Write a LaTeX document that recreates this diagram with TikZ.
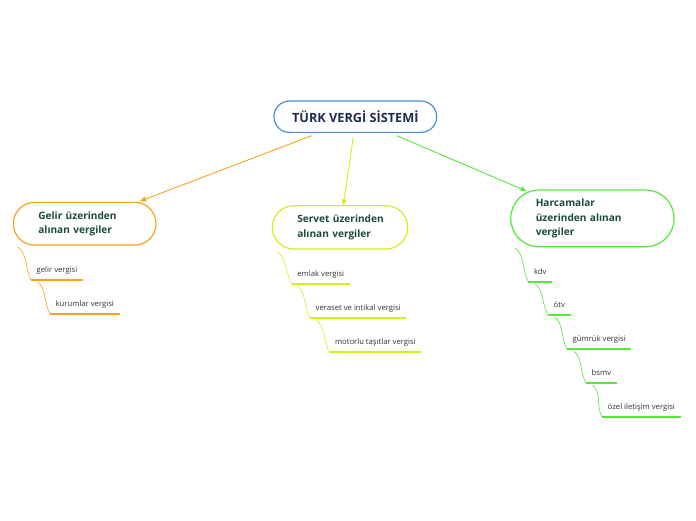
\documentclass[tikz,border=0pt]{standalone}
\usepackage{fontspec}
\setmainfont{Open Sans}
\usetikzlibrary{arrows.meta}
\definecolor{cOrange}{HTML}{F7A21D}
\definecolor{cYellow}{HTML}{D2F01E}
\definecolor{cGreen}{HTML}{55E83A}
\definecolor{cBlue}{HTML}{4A8FD6}
\definecolor{cText}{HTML}{1B4A3C}
\definecolor{cRoot}{HTML}{1D2D50}
\definecolor{cItem}{HTML}{333333}
\begin{document}
\begin{tikzpicture}[x=1pt,y=-1pt,
  box/.style={draw, line width=1.2pt, align=left, inner ysep=0pt, inner xsep=25pt,
    font=\fontsize{10.1}{14.5}\selectfont\bfseries, text=cText},
  rootbox/.style={draw=cBlue, line width=1.2pt, rounded corners=15.5pt, align=center,
    minimum width=162.7pt, minimum height=31.3pt, inner sep=0pt,
    font=\fontsize{12.7}{14}\selectfont\bfseries, text=cRoot},
  item/.style={anchor=south west, inner xsep=5.5pt, inner ysep=7pt, text height=5.5pt, text depth=0pt,
    font=\fontsize{7.7}{9}\selectfont, text=cItem},
  uline/.style={line width=1.6pt},
  twig/.style={line width=0.6pt},
  arr/.style={line width=0.9pt, -{Triangle[length=6pt,width=5pt]}}
]
\useasboundingbox (0,0) rectangle (696,520);
\fill[white] (0,0) rectangle (696,520);

\node[rootbox] (root) at (355.3,116.7) {TÜRK VERGİ SİSTEMİ};

\node[box, draw=cOrange, rounded corners=21.2pt, text width=92.7pt, minimum height=42.7pt] (gelir) at (84.7,223.7) {\mbox{Gelir üzerinden}\\\mbox{alınan vergiler}};
\node[box, draw=cYellow, rounded corners=21.5pt, text width=85.4pt, minimum height=43.3pt] (servet) at (340,227.3) {\mbox{Servet üzerinden}\\\mbox{alınan vergiler}};
\node[box, draw=cGreen, rounded corners=28.2pt, text width=113.3pt, minimum height=56.7pt] (harc) at (592.4,218.4) {\mbox{Harcamalar}\\\mbox{üzerinden alınan}\\\mbox{vergiler}};

\draw[arr, cOrange] ([shift={(-43.6,2.7)}]root.south) -- ([shift={(55.3,-0.6)}]gelir.north);
\draw[arr, cYellow] ([shift={(-2,4.4)}]root.south) -- ([shift={(3.3,0.3)}]servet.north);
\draw[arr, cGreen] ([shift={(41.4,2.7)}]root.south) -- ([shift={(-65.7,1.7)}]harc.north);

% Gelir items
\node[item] (g1) at (31,280) {gelir vergisi};
\node[item] (g2) at (50,313.7) {kurumlar vergisi};
\begin{scope}[cOrange]
\draw[twig] ([shift={(5,1.5)}]gelir.south west) .. controls +(10,6) and +(-6,-10) .. (g1.south west);
\draw[uline] (g1.south west) -- (g1.south east);
\draw[twig] ([shift={(6.5,2)}]g1.south west) .. controls +(9,6) and +(-6,-10) .. (g2.south west);
\draw[uline] (g2.south west) -- (g2.south east);
\end{scope}

% Servet items
\node[item] (s1) at (291.7,284) {emlak vergisi};
\node[item] (s2) at (310,318) {veraset ve intikal vergisi};
\node[item] (s3) at (329.3,351.7) {motorlu taşıtlar vergisi};
\begin{scope}[cYellow]
\draw[twig] ([shift={(5,1.5)}]servet.south west) .. controls +(10,6) and +(-6,-10) .. (s1.south west);
\draw[uline] (s1.south west) -- (s1.south east);
\draw[twig] ([shift={(5.5,2)}]s1.south west) .. controls +(9,6) and +(-6,-10) .. (s2.south west);
\draw[uline] (s2.south west) -- (s2.south east);
\draw[twig] ([shift={(6.5,2.5)}]s2.south west) .. controls +(9,6) and +(-6,-10) .. (s3.south west);
\draw[uline] (s3.south west) -- (s3.south east);
\end{scope}

% Harcamalar items
\node[item] (h1) at (528.3,281.7) {kdv};
\node[item] (h2) at (548,315) {ötv};
\node[item] (h3) at (567,349) {gümrük vergisi};
\node[item] (h4) at (586,383) {bsmv};
\node[item] (h5) at (602,417) {özel iletişim vergisi};
\begin{scope}[cGreen]
\draw[twig] ([shift={(4.5,0.5)}]harc.south west) .. controls +(10,6) and +(-6,-10) .. (h1.south west);
\draw[uline] (h1.south west) -- (h1.south east);
\draw[twig] ([shift={(6.5,2)}]h1.south west) .. controls +(9,6) and +(-6,-10) .. (h2.south west);
\draw[uline] (h2.south west) -- (h2.south east);
\draw[twig] ([shift={(6.5,2)}]h2.south west) .. controls +(9,6) and +(-6,-10) .. (h3.south west);
\draw[uline] (h3.south west) -- (h3.south east);
\draw[twig] ([shift={(6.5,2)}]h3.south west) .. controls +(9,6) and +(-6,-10) .. (h4.south west);
\draw[uline] (h4.south west) -- (h4.south east);
\draw[twig] ([shift={(6.5,2)}]h4.south west) .. controls +(9,6) and +(-6,-10) .. (h5.south west);
\draw[uline] (h5.south west) -- (h5.south east);
\end{scope}
\end{tikzpicture}
\end{document}
